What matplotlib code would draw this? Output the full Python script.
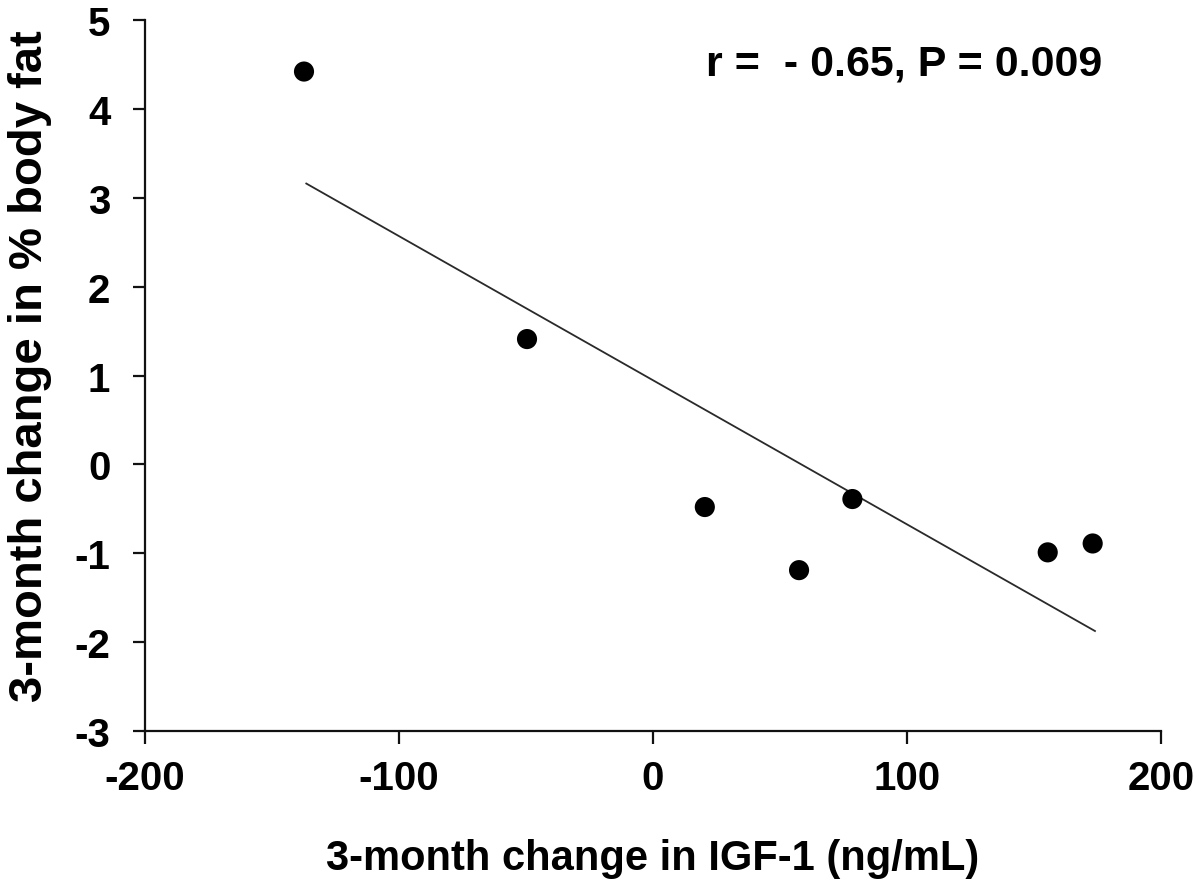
import matplotlib
matplotlib.use("Agg")
import matplotlib.pyplot as plt

plt.rcParams['font.family'] = ['Liberation Sans', 'DejaVu Sans']

# data
igf1_change = [-137.4, -49.6, 20.4, 57.5, 78.5, 155.4, 173.1]
bodyfat_change = [4.42, 1.41, -0.48, -1.19, -0.39, -0.99, -0.89]
fit_x = [-136.5, 174.0]
fit_y = [3.16, -1.875]
x_ticks = [-200, -100, 0, 100, 200]
y_ticks = [-3, -2, -1, 0, 1, 2, 3, 4, 5]
annotation = "r =  - 0.65, P = 0.009"

fig = plt.figure(figsize=(12, 8.87), dpi=100)
ax = fig.add_axes([145/1200, 1-732/887, (1161-145)/1200, (732-21)/887])

ax.plot(fit_x, fit_y, color='#2a2a2a', lw=1.3, zorder=2)
ax.scatter(igf1_change, bodyfat_change, s=210, color='black', zorder=3, edgecolors='none')

ax.set_xlim(-200, 200)
ax.set_ylim(-3, 5)
ax.set_xticks(x_ticks)
ax.set_yticks(y_ticks)
ax.set_xticklabels([str(v) for v in x_ticks])
ax.set_yticklabels([str(v) for v in y_ticks])

for s in ['top', 'right']:
    ax.spines[s].set_visible(False)
for s in ['left', 'bottom']:
    ax.spines[s].set_linewidth(1.6)
    ax.spines[s].set_color('#111111')

ax.tick_params(axis='both', direction='out', length=9, width=1.6, color='#111111',
               labelsize=29)
ax.tick_params(axis='y', pad=16)
ax.tick_params(axis='x', pad=11)
for lab in ax.get_xticklabels() + ax.get_yticklabels():
    lab.set_fontweight('bold')

ax.set_xlabel("3-month change in IGF-1 (ng/mL)", fontsize=30, fontweight='bold', labelpad=30)
ax.set_ylabel("3-month change in % body fat", fontsize=34, fontweight='bold')
ax.yaxis.set_label_coords(-0.092, 0.515)

ax.text(99, 4.51, annotation, fontsize=31,
        fontweight='bold', ha='center', va='center')

fig.savefig("out.png", dpi=100, facecolor='white')
